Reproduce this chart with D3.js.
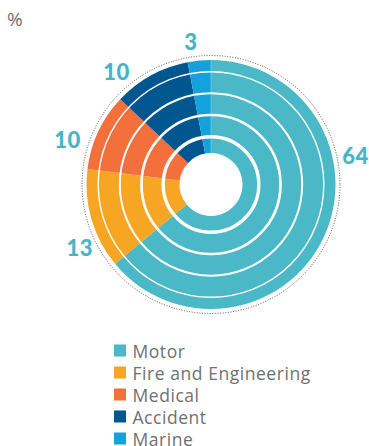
<!DOCTYPE html>
<html>
<head>
<meta charset="utf-8">
<script src="https://cdn.jsdelivr.net/npm/d3@7"></script>
<style>
  html, body { margin: 0; padding: 0; background: #fff; }
  svg { display: block; }
</style>
</head>
<body>
<svg id="chart" width="369" height="446"></svg>
<script>
// Premium mix by line of business (%)
const categories = ["Motor", "Fire and Engineering", "Medical", "Accident", "Marine"];
const shares = [64, 13, 10, 10, 3];
const colors = ["#4bb8c8", "#f6a623", "#f36f3b", "#00578f", "#15a2dc"];
const unitLabel = "%";

const width = 369, height = 446;
const cx = 211, cy = 184.5;
const innerR = 31.5, outerR = 124.5;

const svg = d3.select("#chart");

svg.append("text")
  .attr("x", 7).attr("y", 26)
  .attr("font-family", "'Open Sans', sans-serif")
  .attr("font-size", 19)
  .attr("fill", "#707070")
  .text(unitLabel);

const g = svg.append("g").attr("transform", `translate(${cx},${cy})`);

const pie = d3.pie().sort(null).value(d => d)(shares);
const arc = d3.arc().innerRadius(innerR).outerRadius(outerR);

g.selectAll("path.slice")
  .data(pie)
  .join("path")
  .attr("class", "slice")
  .attr("d", arc)
  .attr("fill", (d, i) => colors[i]);

// thin seam where the ring starts at 12 o'clock
g.append("line")
  .attr("x1", 0).attr("y1", -innerR)
  .attr("x2", 0).attr("y2", -outerR)
  .attr("stroke", "#ffffff").attr("stroke-opacity", 0.35).attr("stroke-width", 0.8);

// white concentric rings cutting through the donut
const rings = [
  { r: 47.8, w: 3.4 },
  { r: 69.5, w: 2.7 },
  { r: 91.2, w: 2.0 },
  { r: 112.8, w: 1.4 }
];
g.selectAll("circle.ring")
  .data(rings)
  .join("circle")
  .attr("class", "ring")
  .attr("r", d => d.r)
  .attr("fill", "none")
  .attr("stroke", "#ffffff")
  .attr("stroke-width", d => d.w);

// dotted outline
g.append("circle")
  .attr("r", outerR + 4.5)
  .attr("fill", "none")
  .attr("stroke", "#555")
  .attr("stroke-width", 1)
  .attr("stroke-dasharray", "1,1.6");

// value labels placed around the ring
const labelAngles = [78.5, 244.5, 287.6, 320, 352];
const labelRadii = [147.5, 145.5, 150.5, 147, 144.5];
g.selectAll("text.value")
  .data(pie)
  .join("text")
  .attr("class", "value")
  .attr("x", (d, i) => labelRadii[i] * Math.sin(labelAngles[i] * Math.PI / 180))
  .attr("y", (d, i) => -labelRadii[i] * Math.cos(labelAngles[i] * Math.PI / 180))
  .attr("text-anchor", "middle")
  .attr("dominant-baseline", "central")
  .attr("font-family", "Lato, 'Open Sans', sans-serif")
  .attr("font-weight", 900)
  .attr("font-size", 22)
  .attr("letter-spacing", 0.5)
  .attr("fill", "#45b5c6")
  .text(d => d.data);

// legend
const legend = svg.append("g").attr("transform", "translate(114,350.5)");
const rows = legend.selectAll("g")
  .data(categories)
  .join("g")
  .attr("transform", (d, i) => `translate(0,${i * 22})`);
rows.append("rect")
  .attr("x", 0).attr("y", -6)
  .attr("width", 12).attr("height", 12)
  .attr("fill", (d, i) => colors[i]);
rows.append("text")
  .attr("x", 18.5).attr("y", 0.5)
  .attr("dominant-baseline", "central")
  .attr("font-family", "'Open Sans', sans-serif")
  .attr("font-size", 17.5)
  .attr("letter-spacing", 0.55)
  .attr("fill", "#707070")
  .text(d => d);
</script>
</body>
</html>
